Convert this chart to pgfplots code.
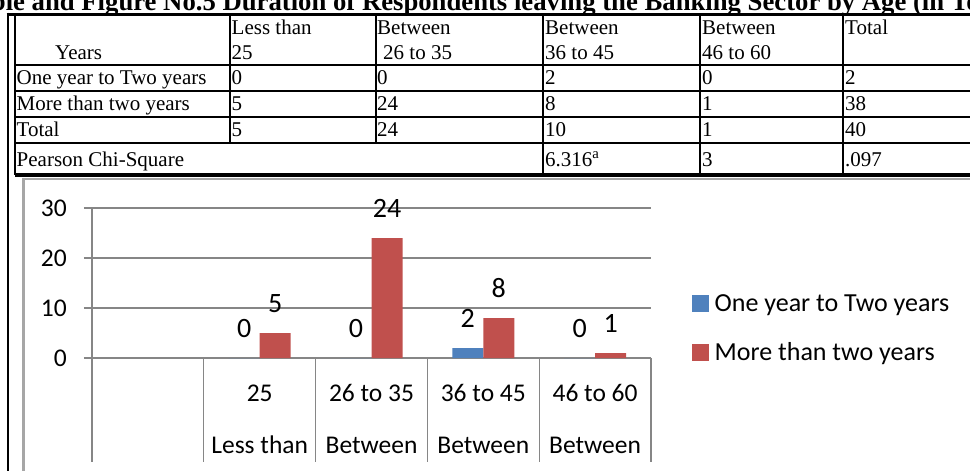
\documentclass[border=0pt]{standalone}
\usepackage{pgfplots}
\pgfplotsset{compat=1.18}
\usepackage{fontspec}
\setmainfont{Liberation Serif}
\newfontfamily\calibri{Carlito}
\definecolor{barblue}{HTML}{4F81BD}
\definecolor{barred}{HTML}{C0504D}
\definecolor{gridgray}{HTML}{868686}
\definecolor{framegray}{HTML}{A6A6A6}
\newcommand{\tc}[3]{\node[anchor=base west, inner sep=0pt] at (#1,#2) {#3};}
\begin{document}
\begin{tikzpicture}
\path[use as bounding box] (0pt,0pt) rectangle (970pt,-471pt);
\clip (0pt,0pt) rectangle (970pt,-471pt);
\begin{scope}[x=1pt,y=-1pt]
  % chart frame
  \draw[framegray, line width=2.5pt] (23.3,179) rectangle (1000,520);
  % title
  \node[anchor=base west, inner sep=0pt, font=\bfseries\fontsize{26.7}{30}\selectfont] at (-38,10)
     {Table and Figure No.5 Duration of Respondents leaving the Banking Sector by Age (in Total)};
  % table rules
  \draw[line width=2.7pt] (8,12.7) -- (8,480);
  \draw[line width=3pt] (6.7,14.2) -- (980,14.2);
  \draw[line width=2pt] (15,14.2) -- (15,175);
  \foreach \y in {65.3,90.7,116.7,142.7} \draw[line width=2pt] (15,\y) -- (980,\y);
  \draw[line width=3.3pt] (15,175) -- (980,175);
  \foreach \x in {230,376} \draw[line width=2pt] (\x,14.2) -- (\x,142.7);
  \foreach \x in {543,700,843} \draw[line width=2pt] (\x,14.2) -- (\x,175);
  % table text
  \begingroup
  \fontsize{21}{25}\selectfont
  \tc{55}{59}{Years}
  \tc{231.5}{34.5}{Less than}  \tc{231.5}{59}{25}
  \tc{377}{34.5}{Between}      \tc{383}{59}{26 to 35}
  \tc{545}{34.5}{Between}      \tc{545}{59}{36 to 45}
  \tc{702}{34.5}{Between}      \tc{702}{59}{46 to 60}
  \tc{845}{34.5}{Total}
  \tc{16.5}{84}{One year to Two years}
  \tc{231.5}{84}{0} \tc{377}{84}{0} \tc{545}{84}{2} \tc{702}{84}{0} \tc{845}{84}{2}
  \tc{16.5}{110.5}{More than two years}
  \tc{231.5}{110.5}{5} \tc{377}{110.5}{24} \tc{545}{110.5}{8} \tc{702}{110.5}{1} \tc{845}{110.5}{38}
  \tc{16.5}{136.5}{Total}
  \tc{231.5}{136.5}{5} \tc{377}{136.5}{24} \tc{545}{136.5}{10} \tc{702}{136.5}{1} \tc{845}{136.5}{40}
  \tc{16.5}{166}{Pearson Chi-Square}
  \tc{545}{166}{6.316\textsuperscript{a}} \tc{702}{166}{3} \tc{845}{166}{.097}
  \endgroup
\end{scope}
\begin{axis}[
  at={(92pt,-358pt)}, anchor=south west,
  scale only axis, width=559pt, height=150pt,
  xmin=-0.5, xmax=4.5, ymin=0, ymax=30,
  clip=false,
  ybar=0pt, bar width=31pt,
  axis x line*=bottom, axis y line*=left,
  x axis line style={-, draw=gridgray, line width=1.2pt},
  y axis line style={-, draw=gridgray, line width=1.2pt},
  /pgf/number format/assume math mode=true,
  ytick={0,10,20,30},
  ymajorgrids, grid style={gridgray, line width=1.2pt},
  tick align=outside, major tick length=8pt,
  tick style={gridgray, line width=1.2pt},
  xtick={1,2,3,4}, xticklabels={25,26 to 35,36 to 45,46 to 60},
  xtick style={draw=none},
  extra x ticks={1,2,3,4},
  extra x tick labels={Less than,Between,Between,Between},
  extra x tick style={xticklabel style={yshift=-51.3pt}},
  ticklabel style={font=\calibri\fontsize{25.5}{30}\selectfont, text=black},
  xticklabel style={anchor=base, inner sep=0pt, yshift=-35.7pt},
  yticklabel style={anchor=east, inner sep=0pt, xshift=-17pt},
  nodes near coords,
  every node near coord/.append style={font=\calibri\fontsize{28}{30}\selectfont, text=black, inner sep=0pt, yshift=20pt},
  legend image code/.code={\fill[#1] (0pt,-8.35pt) rectangle (16.7pt,8.35pt);},
  legend cell align=left,
  legend style={draw=none, fill=none, inner sep=0pt, outer sep=0pt,
    at={(axis description cs:1.0733,0.4533)}, anchor=north west,
    font=\calibri\fontsize{26}{30}\selectfont,
    nodes={inner sep=0pt, text height=21.7pt, text depth=5pt},
    column sep=6pt, row sep=22.3pt},
]
\addplot[fill=barblue, draw=none] coordinates {(1,0) (2,0) (3,2) (4,0)};
\addplot[fill=barred, draw=none] coordinates {(1,5) (2,24) (3,8) (4,1)};
\legend{One year to Two years, More than two years}
% category separators of the two-level category axis
\draw[gridgray, line width=1.2pt] (axis cs:-0.5,0) -- ++(0pt,-104pt);
\draw[gridgray, line width=1.2pt] (axis cs:0.5,0) -- ++(0pt,-104pt);
\draw[gridgray, line width=1.2pt] (axis cs:1.5,0) -- ++(0pt,-104pt);
\draw[gridgray, line width=1.2pt] (axis cs:2.5,0) -- ++(0pt,-104pt);
\draw[gridgray, line width=1.2pt] (axis cs:3.5,0) -- ++(0pt,-104pt);
\draw[gridgray, line width=1.2pt] (axis cs:4.5,0) -- ++(0pt,-104pt);
\end{axis}
\end{tikzpicture}
\end{document}
